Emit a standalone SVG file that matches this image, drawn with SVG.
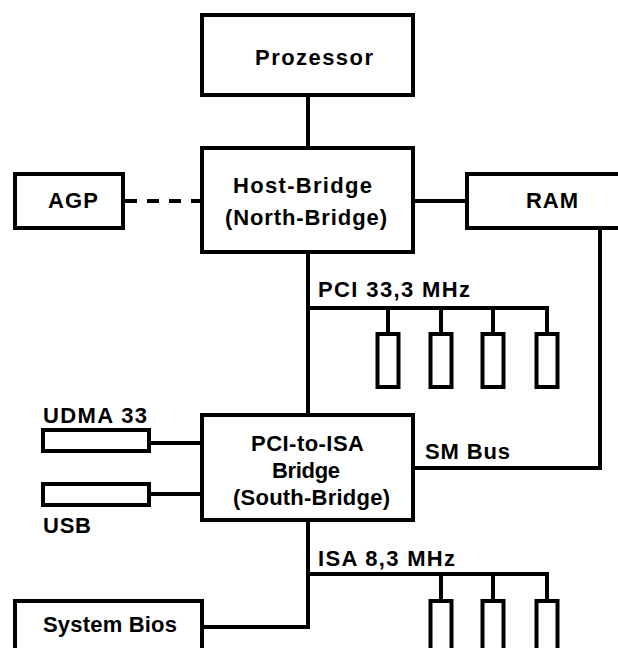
<svg xmlns="http://www.w3.org/2000/svg" width="618" height="648" viewBox="0 0 618 648">
<style>
.box{fill:#fff;stroke:#000;stroke-width:4}
.ln{fill:none;stroke:#000;stroke-width:4}
.dash{stroke-dasharray:12 10}
text{font-family:"Liberation Sans",Arial,sans-serif;font-weight:bold;font-size:22px;fill:#000}
</style>
<rect width="618" height="648" fill="#fff"/>
<g id="connectors">
<line class="ln" x1="308" y1="95" x2="308" y2="148"/>
<line class="ln dash" x1="125" y1="201" x2="202" y2="201"/>
<line class="ln" x1="413" y1="201" x2="467" y2="201"/>
<path class="ln" d="M600 228 V468 H413"/>
<line class="ln" x1="308" y1="252" x2="308" y2="415"/>
<line class="ln" x1="308" y1="308" x2="549" y2="308"/>
<line class="ln" x1="388" y1="308" x2="388" y2="334"/>
<line class="ln" x1="441" y1="308" x2="441" y2="334"/>
<line class="ln" x1="493" y1="308" x2="493" y2="334"/>
<line class="ln" x1="547" y1="308" x2="547" y2="334"/>
<line class="ln" x1="149" y1="443" x2="202" y2="443"/>
<line class="ln" x1="149" y1="494" x2="202" y2="494"/>
<path class="ln" d="M308 520 V627 H202"/>
<line class="ln" x1="308" y1="574" x2="549" y2="574"/>
<line class="ln" x1="441" y1="574" x2="441" y2="601"/>
<line class="ln" x1="493" y1="574" x2="493" y2="601"/>
<line class="ln" x1="547" y1="574" x2="547" y2="601"/>
<text x="318" y="297" textLength="152">PCI 33,3 MHz</text>
<text x="425" y="459" textLength="85">SM Bus</text>
<text x="318" y="566" textLength="137">ISA 8,3 MHz</text>
</g>
<g id="prozessor">
<rect class="box" x="202" y="15" width="211" height="80"/>
<text x="255" y="65" font-size="20" textLength="118">Prozessor</text>
</g>
<g id="agp">
<rect class="box" x="15" y="174" width="108" height="54"/>
<text x="48" y="208" textLength="50">AGP</text>
</g>
<g id="host-bridge">
<rect class="box" x="202" y="148" width="211" height="104"/>
<text x="233" y="193" textLength="139">Host-Bridge</text>
<text x="225" y="225" textLength="162">(North-Bridge)</text>
</g>
<g id="ram">
<rect class="box" x="467" y="174" width="160" height="54"/>
<text x="526" y="208" textLength="52">RAM</text>
</g>
<g id="pci-slots">
<rect class="box" x="377.5" y="334" width="21" height="53"/>
<rect class="box" x="430.5" y="334" width="21" height="53"/>
<rect class="box" x="482.5" y="334" width="21" height="53"/>
<rect class="box" x="536.5" y="334" width="21" height="53"/>
</g>
<g id="udma">
<text x="43" y="423" textLength="104">UDMA 33</text>
<rect class="box" x="43" y="430" width="106" height="21"/>
</g>
<g id="usb">
<rect class="box" x="43" y="484" width="106" height="21"/>
<text x="43" y="533" textLength="48">USB</text>
</g>
<g id="south-bridge">
<rect class="box" x="202" y="415" width="211" height="105"/>
<text x="251" y="451" textLength="113">PCI-to-ISA</text>
<text x="272" y="478" textLength="68">Bridge</text>
<text x="233" y="505" textLength="157">(South-Bridge)</text>
</g>
<g id="isa-slots">
<rect class="box" x="430.5" y="601" width="21" height="60"/>
<rect class="box" x="482.5" y="601" width="21" height="60"/>
<rect class="box" x="536.5" y="601" width="21" height="60"/>
</g>
<g id="system-bios">
<rect class="box" x="15" y="601" width="187" height="60"/>
<text x="43" y="632" textLength="134">System Bios</text>
</g>
</svg>
